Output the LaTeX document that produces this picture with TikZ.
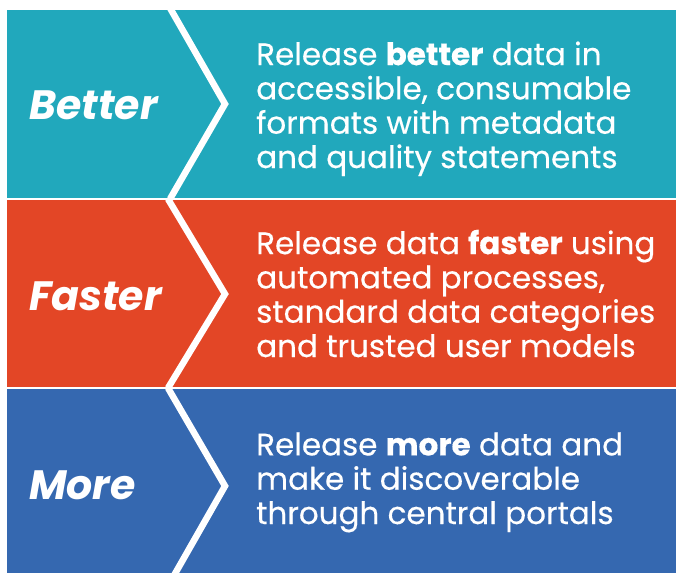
\documentclass[tikz,border=0pt]{standalone}
\usepackage{fontspec}
\setmainfont{Poppins}
\newfontfamily\bodyfont{Poppins}[FakeBold=0.4]
\definecolor{bandteal}{HTML}{21A8BC}
\definecolor{bandred}{HTML}{E34626}
\definecolor{bandblue}{HTML}{3568B0}
\tikzset{
  chev/.style={draw=white, line width=6.5pt, miter limit=10, line join=miter},
  label/.style={anchor=base west, inner sep=0pt, text=white, font=\fontsize{41}{44}\selectfont\bfseries\itshape},
  body/.style={anchor=base west, inner sep=0pt, text=white, align=left, font=\bodyfont\fontsize{31}{34.3}\selectfont}
}
\begin{document}
\begin{tikzpicture}[x=1pt,y=-1pt]
\useasboundingbox (0,0) rectangle (676,572);
\clip (0,0) rectangle (676,572);
% bands
\fill[bandteal] (7,10) rectangle (676,198);
\fill[bandred] (7,200) rectangle (676,387);
\fill[bandblue] (7,389) rectangle (676,584);
% chevrons
\coordinate (t1) at (170,8);  \coordinate (a1) at (225,104); \coordinate (e1) at (170,199);
\coordinate (t2) at (168,199); \coordinate (a2) at (225,294); \coordinate (e2) at (168,388);
\coordinate (t3) at (168,388); \coordinate (a3) at (225,486); \coordinate (e3) at (168,586);
\draw[chev] (t1) -- (a1) -- (e1);
\draw[chev] (t2) -- (a2) -- (e2);
\draw[chev] (t3) -- (a3) -- (e3);
% labels
\node[label] (l1) at (29,120) {Better};
\node[label] (l2) at (29,310) {Faster};
\node[label] (l3) at (29,499) {More};
% body texts (anchor = baseline of last line)
\node[body] (x1) at (256,168) {Release \textbf{better} data in\\accessible, consumable\\formats with metadata\\and quality statements};
\node[body] (x2) at (256,357) {Release data \textbf{faster} using\\automated processes,\\standard data categories\\and trusted user models};
\node[body] (x3) at (256,524) {Release \textbf{more} data and\\make it discoverable\\through central portals};
\end{tikzpicture}
\end{document}
